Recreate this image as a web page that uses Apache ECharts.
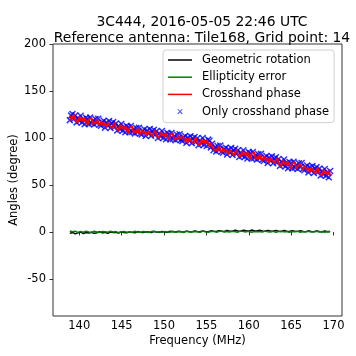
<!DOCTYPE html>
<html>
<head>
<meta charset="utf-8">
<script src="https://cdn.jsdelivr.net/npm/echarts@6/dist/echarts.min.js"></script>
<style>
html, body { margin: 0; padding: 0; background: #fff; }
#chart { width: 356px; height: 356px; }
</style>
</head>
<body>
<div id="chart"></div>
<script>
// fine channels (MHz)
var freq = [138.88, 139.04, 139.20, 139.36, 139.52, 139.68, 139.84, 140.00, 140.16, 140.32,
    140.48, 140.64, 140.80, 140.96, 141.12, 141.28, 141.44, 141.60, 141.76, 141.92,
    142.08, 142.24, 142.40, 142.56, 142.72, 142.88, 143.04, 143.20, 143.36, 143.52,
    143.68, 143.84, 144.00, 144.16, 144.32, 144.48, 144.64, 144.80, 144.96, 145.12,
    145.28, 145.44, 145.60, 145.76, 145.92, 146.08, 146.24, 146.40, 146.56, 146.72,
    146.88, 147.04, 147.20, 147.36, 147.52, 147.68, 147.84, 148.00, 148.16, 148.32,
    148.48, 148.64, 148.80, 148.96, 149.12, 149.28, 149.44, 149.60, 149.76, 149.92,
    150.08, 150.24, 150.40, 150.56, 150.72, 150.88, 151.04, 151.20, 151.36, 151.52,
    151.68, 151.84, 152.00, 152.16, 152.32, 152.48, 152.64, 152.80, 152.96, 153.12,
    153.28, 153.44, 153.60, 153.76, 153.92, 154.08, 154.24, 154.40, 154.56, 154.72,
    154.88, 155.04, 155.20, 155.36, 155.52, 155.68, 155.84, 156.00, 156.16, 156.32,
    156.48, 156.64, 156.80, 156.96, 157.12, 157.28, 157.44, 157.60, 157.76, 157.92,
    158.08, 158.24, 158.40, 158.56, 158.72, 158.88, 159.04, 159.20, 159.36, 159.52,
    159.68, 159.84, 160.00, 160.16, 160.32, 160.48, 160.64, 160.80, 160.96, 161.12,
    161.28, 161.44, 161.60, 161.76, 161.92, 162.08, 162.24, 162.40, 162.56, 162.72,
    162.88, 163.04, 163.20, 163.36, 163.52, 163.68, 163.84, 164.00, 164.16, 164.32,
    164.48, 164.64, 164.80, 164.96, 165.12, 165.28, 165.44, 165.60, 165.76, 165.92,
    166.08, 166.24, 166.40, 166.56, 166.72, 166.88, 167.04, 167.20, 167.36, 167.52,
    167.68, 167.84, 168.00, 168.16, 168.32, 168.48, 168.64, 168.80, 168.96, 169.12,
    169.28, 169.44, 169.60];

var crosshand = [124, 119, 122.5, 125, 119, 120.5, 116.5, 123, 118.5, 121.5,
    117, 121.7, 117.4, 114.1, 119.9, 118.7, 121.6, 114.4, 117.3, 115.1,
    120, 115.6, 113.3, 118, 119.6, 113.3, 116, 110.6, 116.3, 114,
    115.6, 110.3, 114, 116.7, 110.4, 112, 107.7, 114.3, 110, 112.7,
    108.4, 113.1, 108.8, 105.5, 111.2, 109.8, 112.5, 105.2, 107.9, 105.5,
    110.2, 106, 103.8, 108.6, 110.5, 104.3, 107.2, 102, 107.8, 105.5,
    107.3, 102, 105.8, 108.5, 102.3, 104, 99.8, 106.6, 102.4, 105.1,
    100.9, 105.6, 101.3, 97.9, 103.6, 102.3, 105, 97.8, 100.6, 98.4,
    103.2, 99.1, 97, 101.7, 103.4, 97.1, 99.8, 94.4, 100.1, 97.8,
    99.5, 94.2, 98, 100.8, 94.6, 96.4, 92.3, 99.1, 95, 97.8,
    93.6, 98.5, 94.3, 91, 95, 91, 93, 85.8, 88.6, 86.4,
    91.2, 86.9, 84.6, 89.3, 91, 84.7, 87.4, 82, 87.6, 85.3,
    87, 81.7, 85.5, 88.2, 82, 83.7, 79.4, 86.2, 82, 84.8,
    80.5, 85.2, 81, 77.6, 83.3, 82, 84.7, 77.3, 80, 77.7,
    82.4, 78.1, 75.8, 80.5, 82.2, 75.8, 78.5, 73.2, 78.9, 76.6,
    78.2, 72.9, 76.5, 79.1, 72.7, 74.3, 69.9, 76.5, 72.1, 74.7,
    70.3, 74.9, 70.5, 67.2, 72.9, 71.7, 74.5, 67.3, 70.1, 68,
    72.8, 68.4, 66, 70.6, 72.2, 65.8, 68.4, 63, 68.6, 66.2,
    67.8, 62.4, 66, 68.7, 62.4, 64, 59.7, 66.3, 62, 64.7,
    60.4, 65.1, 60.8];

var onlyCrosshand = [119, 123.8, 125.6, 120.3, 124, 116.6, 121.3, 118, 123.7, 116.4,
    120, 114.7, 121.4, 120.1, 114.9, 121.7, 115.6, 118.4, 114.3, 120.1,
    116, 120.6, 114.3, 113, 116.6, 118.3, 111, 116.6, 113.3, 118,
    110.6, 115.3, 117, 111.7, 115.4, 108, 112.7, 109.3, 115, 107.7,
    111.4, 106.1, 112.8, 111.5, 106.2, 112.8, 106.5, 109.2, 104.9, 110.5,
    106.2, 111, 104.8, 103.6, 107.5, 109.3, 102.2, 108, 104.8, 109.5,
    102.3, 107, 108.8, 103.5, 107.3, 100, 104.8, 101.6, 107.4, 100.1,
    103.9, 98.6, 105.3, 103.9, 98.6, 105.3, 99, 101.8, 97.6, 103.4,
    99.2, 104.1, 98, 96.7, 100.4, 102.1, 94.8, 100.4, 97.1, 101.8,
    94.5, 99.2, 101, 95.8, 99.6, 92.4, 97.3, 94.1, 100, 92.8,
    96.6, 91.5, 98.3, 97, 90, 94, 87, 89.8, 85.6, 91.4,
    87.2, 91.9, 85.6, 84.3, 88, 89.7, 82.4, 88, 84.6, 89.3,
    82, 86.7, 88.5, 83.2, 87, 79.7, 84.4, 81.2, 87, 79.8,
    83.5, 78.2, 85, 83.6, 78.3, 85, 78.7, 81.3, 77, 82.7,
    78.4, 83.1, 76.8, 75.5, 79.2, 80.8, 73.5, 79.2, 75.9, 80.6,
    73.2, 77.9, 79.5, 74.1, 77.7, 70.3, 74.9, 71.5, 77.1, 69.7,
    73.3, 67.9, 74.5, 73.2, 67.9, 74.7, 68.5, 71.3, 67.1, 73,
    68.8, 73.4, 67, 65.6, 69.2, 70.8, 63.4, 69, 65.6, 70.2,
    62.8, 67.4, 69, 63.7, 67.4, 60, 64.7, 61.3, 67, 59.7,
    63.4, 58.1, 64.8];

// coarser grid used for the two small terms
var freqCoarse = [138.88, 139.20, 139.52, 139.84, 140.16, 140.48, 140.80, 141.12, 141.44, 141.76,
    142.08, 142.40, 142.72, 143.04, 143.36, 143.68, 144.00, 144.32, 144.64, 144.96,
    145.28, 145.60, 145.92, 146.24, 146.56, 146.88, 147.20, 147.52, 147.84, 148.16,
    148.48, 148.80, 149.12, 149.44, 149.76, 150.08, 150.40, 150.72, 151.04, 151.36,
    151.68, 152.00, 152.32, 152.64, 152.96, 153.28, 153.60, 153.92, 154.24, 154.56,
    154.88, 155.20, 155.52, 155.84, 156.16, 156.48, 156.80, 157.12, 157.44, 157.76,
    158.08, 158.40, 158.72, 159.04, 159.36, 159.68, 160.00, 160.32, 160.64, 160.96,
    161.28, 161.60, 161.92, 162.24, 162.56, 162.88, 163.20, 163.52, 163.84, 164.16,
    164.48, 164.80, 165.12, 165.44, 165.76, 166.08, 166.40, 166.72, 167.04, 167.36,
    167.68, 168.00, 168.32, 168.64, 168.96, 169.28, 169.60];

var geometric = [-1.5, -0.5, -2, -1, 0, -1.8, -0.6, -1.2, -0.3, -1.5,
    -0.8, 0.2, -1.0, -0.4, -1.3, 0, -0.7, -0.2, -1.1, 0.3,
    -0.5, -0.9, 0.1, -0.4, -0.8, 0.4, -0.2, -0.6, 0.3, -0.1,
    -0.5, 0.5, 0, -0.3, 0.6, 0.1, -0.2, 0.7, 0.2, -0.1,
    0.8, 0.3, 0, 0.9, 0.4, 0.1, 1.0, 0.5, 0.2, 1.1,
    0.6, 0.3, 1.2, 0.7, 0.5, 1.3, 0.8, 0.6, 1.5, 0.9,
    0.7, 1.8, 1.0, 0.8, 1.9, 1.2, 0.9, 2.0, 1.3, 1.0,
    1.8, 1.1, 0.8, 1.7, 1.0, 0.7, 1.6, 0.9, 0.6, 1.5,
    0.8, 0.5, 1.4, 0.7, 0.4, 1.3, 0.6, 0.3, 1.2, 0.5,
    0.2, 1.1, 0.4, 0.1, 1.0, 0.3, 0.5];

var ellipticity = [1.0, 0.2, 0.8, -0.4, 0.6, -0.2, 0.9, 0.1, -0.5, 0.7,
    0.0, -0.6, 0.5, 0.2, -0.3, 0.8, -0.1, 0.4, -0.7, 0.3,
    0.6, -0.2, 0.1, -0.5, 0.7, 0.0, -0.3, 0.5, 0.2, -0.6,
    0.4, 0.9, -0.1, 0.3, -0.4, 0.6, 0.1, -0.2, 0.8, -0.3,
    0.2, 0.5, -0.5, 0.7, 0.0, -0.1, 0.6, 0.3, -0.4, 0.9,
    0.1, -0.3, 0.5, 0.8, -0.2, 0.4, 1.0, 0.0, 0.6, -0.1,
    0.7, 0.3, -0.2, 0.9, 0.4, 0.1, 0.8, -0.3, 0.5, 0.2,
    0.6, -0.1, 0.9, 0.3, 0.0, 0.7, -0.4, 0.5, 0.8, 0.1,
    0.4, -0.2, 0.6, 0.2, 0.9, -0.3, 0.5, 0.1, 0.7, -0.1,
    0.3, 0.8, 0.0, 0.5, -0.2, 0.6, 0.2];

var xTicks = [140, 145, 150, 155, 160, 165, 170];
var yTicks = [-50, 0, 50, 100, 150, 200];

function pairs(xs, ys) {
    return xs.map(function (f, i) { return [f, ys[i]]; });
}

var crossPath = 'path://M0,1.5 L1.5,0 L5,3.5 L8.5,0 L10,1.5 L6.5,5 L10,8.5 L8.5,10 L5,6.5 L1.5,10 L0,8.5 L3.5,5 Z';
// legend handles: the corner moves keep the 29x12 box so the drawing is not stretched
var lineIcon = 'path://M0,0 L0,0 M0,5.25 L24,5.25 L24,6.75 L0,6.75 Z M29,12 L29,12';
var crossIcon = 'path://M0,0 L0,0 M9.4,4.02 L10.02,3.4 L12,5.38 L13.98,3.4 L14.6,4.02 L12.62,6 L14.6,7.98 L13.98,8.6 L12,6.62 L10.02,8.6 L9.4,7.98 L11.62,6 Z M29,12 L29,12';
var font = 'DejaVu Sans';

var chart = echarts.init(document.getElementById('chart'));
chart.setOption({
    animation: false,
    backgroundColor: '#fff',
    title: {
        text: '3C444, 2016-05-05 22:46 UTC\nReference antenna: Tile168, Grid point: 14',
        left: 197,
        top: 10,
        textAlign: 'center',
        textStyle: { fontFamily: font, fontSize: 13.9, fontWeight: 'normal', color: '#000', lineHeight: 15.5 }
    },
    legend: {
        orient: 'vertical',
        left: 163,
        top: 50,
        padding: [4, 5, 5, 5],
        itemGap: 5.2,
        itemWidth: 29,
        itemHeight: 12,
        borderColor: '#d0d0d0',
        borderWidth: 1,
        borderRadius: 3,
        backgroundColor: 'rgba(255,255,255,0.8)',
        textStyle: { fontFamily: font, fontSize: 11.5, lineHeight: 12, color: '#000' },
        data: [
            { name: 'Geometric rotation', icon: lineIcon },
            { name: 'Ellipticity error', icon: lineIcon },
            { name: 'Crosshand phase', icon: lineIcon },
            { name: 'Only crosshand phase', icon: crossIcon }
        ]
    },
    grid: {
        left: 53, right: 14, top: 44, bottom: 40,
        outerBoundsMode: 'none',
        containLabel: false,
        show: true, borderColor: '#333', borderWidth: 1
    },
    xAxis: {
        type: 'value',
        min: 136.9,
        max: 171.0,
        name: 'Frequency (MHz)',
        nameLocation: 'middle',
        nameGap: 19,
        nameMoveOverlap: false,
        nameTextStyle: { fontFamily: font, fontSize: 11.5, color: '#000' },
        axisLine: { show: false },
        axisTick: { show: true, inside: false, length: 3.5, customValues: xTicks, lineStyle: { color: '#333' } },
        axisLabel: { customValues: xTicks, margin: 4, fontFamily: font, fontSize: 11.5, color: '#000' },
        splitLine: { show: false }
    },
    yAxis: {
        type: 'value',
        min: -89.4,
        max: 200,
        name: 'Angles (degree)',
        nameLocation: 'middle',
        nameGap: 33,
        nameMoveOverlap: false,
        nameTextStyle: { fontFamily: font, fontSize: 11.5, color: '#000' },
        axisLine: { show: false },
        axisTick: { show: true, inside: false, length: 3.5, customValues: yTicks, lineStyle: { color: '#333' } },
        axisLabel: { customValues: yTicks, margin: 7, fontFamily: font, fontSize: 11.5, color: '#000' },
        splitLine: { show: false }
    },
    series: [
        {
            name: 'Only crosshand phase',
            type: 'scatter',
            data: pairs(freq, onlyCrosshand),
            symbol: crossPath,
            symbolSize: 7,
            itemStyle: { color: '#0000ff' }
        },
        {
            name: 'Geometric rotation',
            type: 'line',
            data: pairs(freqCoarse, geometric),
            symbol: 'none',
            showSymbol: false,
            lineStyle: { color: '#000', width: 1.5 },
            itemStyle: { color: '#000' }
        },
        {
            name: 'Ellipticity error',
            type: 'line',
            data: pairs(freqCoarse, ellipticity),
            symbol: 'none',
            showSymbol: false,
            lineStyle: { color: '#008000', width: 1.5 },
            itemStyle: { color: '#008000' }
        },
        {
            name: 'Crosshand phase',
            type: 'line',
            data: pairs(freq, crosshand),
            symbol: 'none',
            showSymbol: false,
            lineStyle: { color: '#ff0000', width: 1.8 },
            itemStyle: { color: '#ff0000' }
        }
    ]
});
</script>
</body>
</html>
